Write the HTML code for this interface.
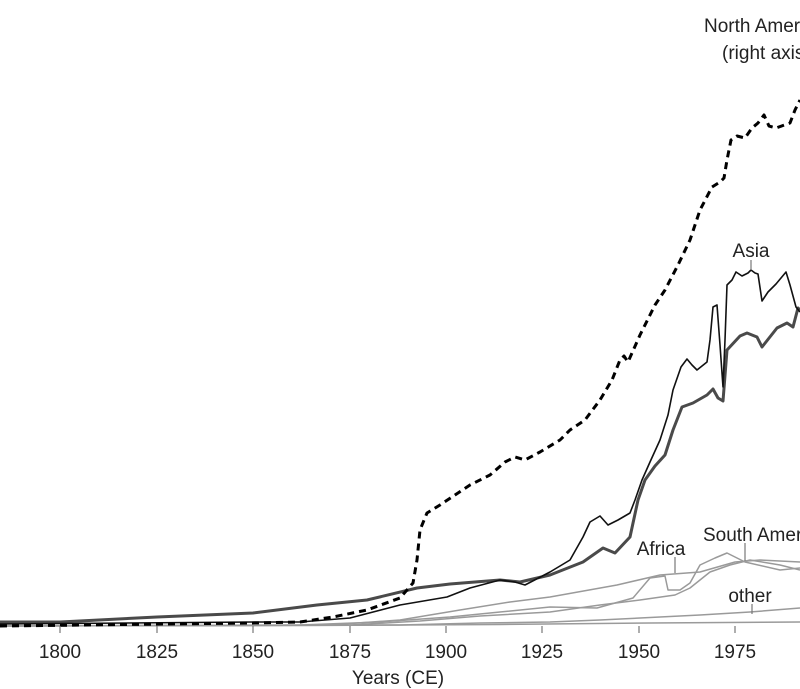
<!DOCTYPE html>
<html><head><meta charset="utf-8"><style>
html,body{margin:0;padding:0;background:#fff;width:800px;height:689px;overflow:hidden}
svg{display:block}
text{font-family:"Liberation Sans",sans-serif;fill:#222}
</style></head><body>
<svg width="800" height="689" viewBox="0 0 800 689" xmlns="http://www.w3.org/2000/svg">
<g fill="none" stroke-linejoin="round">
<g stroke="#9a9a9a" stroke-width="1.5">
<polyline points="0,626 300,625.5 500,624.5 650,623 800,622"/>
<polyline points="0,626 300,625 380,622 450,617 500,612 550,607 597,608 633,598 650,578 665,576 668,590 680,590 690,583 700,565 715,558 727,553 745,562 780,570 800,568"/>
<polyline points="0,626 330,625 400,620 460,610 510,602 550,597 617,585 660,575 700,572 735,562 760,560 800,562"/>
<polyline points="0,626 350,625 420,621 480,616 550,612 600,605 640,600 675,595 690,588 710,572 730,565 750,560 780,565 800,570"/>
<polyline points="0,626 400,625 480,623 550,622 600,620 640,618 700,615 750,612 800,608"/>
</g>
<polyline stroke="#4a4a4a" stroke-width="3" points="0,622 60,622 157,617 253,613 317,605 367,600 417,588 450,584 500,580 520,582 550,575 583,562 603,548 615,553 630,537 638,500 645,480 655,466 665,455 673,430 682,407 693,403 707,395 713,389 718,398 723,401 727,350 740,336 747,333 757,337 762,347 777,328 787,323 793,327 798,308 800,310"/>
<polyline stroke="#111" stroke-width="1.6" points="0,624 253,622 300,622 350,618 400,605 447,597 470,588 500,580 515,582 525,585 550,572 570,560 583,537 590,522 600,516 608,525 618,520 630,513 635,500 642,480 650,462 660,440 668,415 673,390 681,367 687,359 692,365 697,370 707,362 710,340 713,307 717,305 720,345 723,387 725,340 727,285 732,280 736,272 742,276 748,273 751,270 755,273 758,274 762,301 768,292 776,284 786,272 790,285 796,307 800,312"/>
<polyline stroke="#000" stroke-width="3" stroke-dasharray="7,5" points="0,626 250,623 300,622 333,617 367,610 400,598 413,583 417,560 420,530 427,513 440,505 455,495 470,485 490,475 505,462 515,457 525,460 540,452 560,440 570,430 585,420 600,400 612,380 620,360 624,356 628,362 640,335 655,305 665,290 678,265 690,240 695,225 700,210 712,187 720,182 724,178 727,160 731,140 737,136 745,138 752,128 758,123 764,115 769,126 776,128 790,123 795,110 800,100"/>
<g stroke="#777" stroke-width="1.2">
<line x1="60" y1="626" x2="60" y2="633"/><line x1="157" y1="626" x2="157" y2="633"/>
<line x1="253" y1="626" x2="253" y2="633"/><line x1="350" y1="626" x2="350" y2="633"/>
<line x1="446" y1="626" x2="446" y2="633"/><line x1="542" y1="626" x2="542" y2="633"/>
<line x1="639" y1="626" x2="639" y2="633"/><line x1="735" y1="626" x2="735" y2="633"/>
<line x1="751" y1="260" x2="751" y2="270"/><line x1="675" y1="557" x2="675" y2="573"/>
<line x1="745" y1="543" x2="745" y2="561"/><line x1="752" y1="604" x2="752" y2="614"/>
</g>
</g>
<g font-size="19" text-anchor="middle">
<text x="60" y="658">1800</text><text x="157" y="658">1825</text><text x="253" y="658">1850</text>
<text x="350" y="658">1875</text><text x="446" y="658">1900</text><text x="542" y="658">1925</text>
<text x="639" y="658">1950</text><text x="735" y="658">1975</text>
<text x="398" y="684">Years (CE)</text>
<text x="751" y="257">Asia</text>
<text x="661" y="555">Africa</text>
<text x="750" y="602">other</text>
</g>
<g font-size="19">
<text x="703" y="541">South America</text>
<text x="704" y="32">North America</text>
<text x="722" y="59">(right axis)</text>
</g>
</svg>
</body></html>
